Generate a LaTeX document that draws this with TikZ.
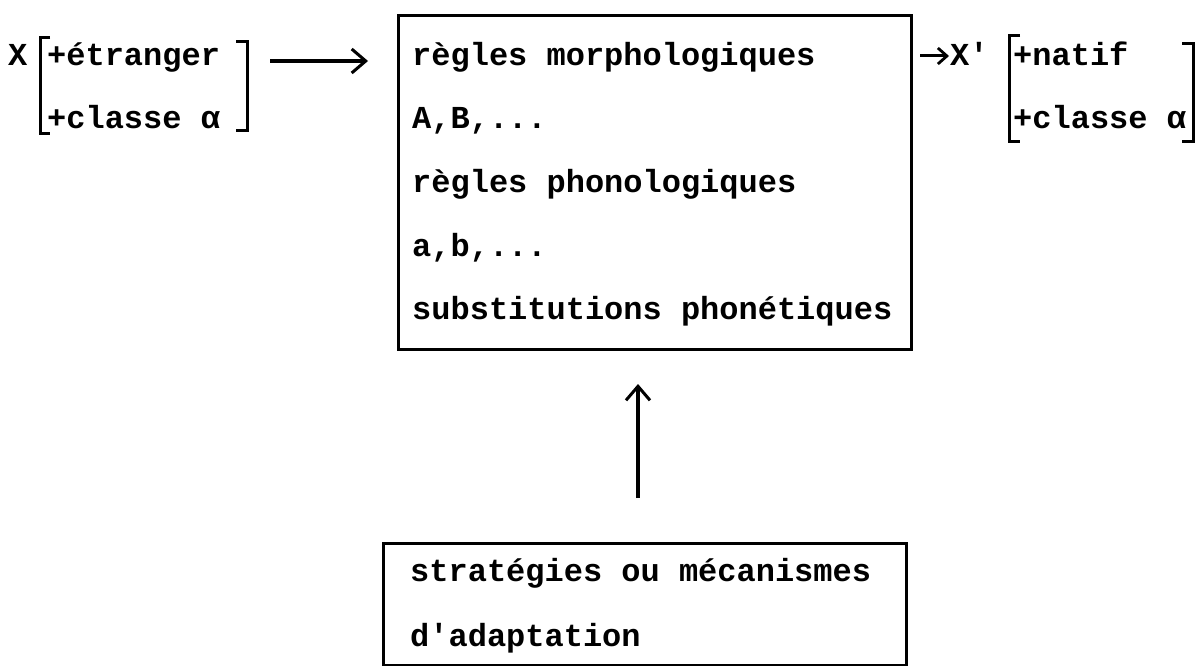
\documentclass[tikz,border=0pt]{standalone}
\usepackage{fontspec}
\setmonofont{Liberation Mono}
\usetikzlibrary{arrows.meta}
\tikzset{
  txt/.style={anchor=base west, inner sep=0pt, font=\ttfamily\bfseries\fontsize{32}{38}\selectfont},
  box/.style={draw, line width=2.8pt, anchor=north west, inner sep=0pt},
  brk/.style={line width=3pt},
  conn/.style={line width=3.4pt, -{Straight Barb[length=14pt,width=24pt,line width=3pt]}},
  sconn/.style={line width=3pt, -{Straight Barb[length=9pt,width=16pt,line width=2.8pt]}},
}
\begin{document}
\begin{tikzpicture}[x=1pt,y=-1pt]
\useasboundingbox (0,0) rectangle (1200,666);
% left group
\node[txt] (x) at (8,66) {X};
\node[txt] (etr) at (47,66) {+étranger};
\node[txt] (cla) at (47,129) {+classe α};
\draw[brk] (50,38) -- (40,38) -- (40,134) -- (50,134);
\draw[brk] (236,42) -- (247,42) -- (247,131) -- (236,131);
% main box
\node[box, minimum width=513pt, minimum height=334pt] (main) at (397,14) {};
\node[txt] (m1) at (412,66) {règles morphologiques};
\node[txt] (m2) at (412,129) {A,B,...};
\node[txt] (m3) at (412,193) {règles phonologiques};
\node[txt] (m4) at (412,256) {a,b,...};
\node[txt] (m5) at (412,319) {substitutions phonétiques};
% right group
\node[txt] (xp) at (950,66) {X'};
\node[txt] (nat) at (1013,66) {+natif};
\node[txt] (cla2) at (1013,129) {+classe α};
\draw[brk] (1020,36) -- (1009,36) -- (1009,142) -- (1020,142);
\draw[brk] (1182,44) -- (1193,44) -- (1193,142) -- (1182,142);
% bottom box
\node[box, minimum width=523pt, minimum height=122pt] (bot) at (382,542) {};
\node[txt] (b1) at (410,581) {stratégies ou mécanismes};
\node[txt] (b2) at (410,646) {d'adaptation};
% connectors
\coordinate (a1s) at (270,61);
\coordinate (a1e) at (368,61);
\draw[conn] (a1s) -- (a1e);
\coordinate (a2s) at (920,56);
\coordinate (a2e) at (949,56);
\draw[sconn] (a2s) -- (a2e);
\coordinate (a3s) at (638,498);
\coordinate (a3e) at (638,384);
\draw[conn] (a3s) -- (a3e);
\end{tikzpicture}
\end{document}
